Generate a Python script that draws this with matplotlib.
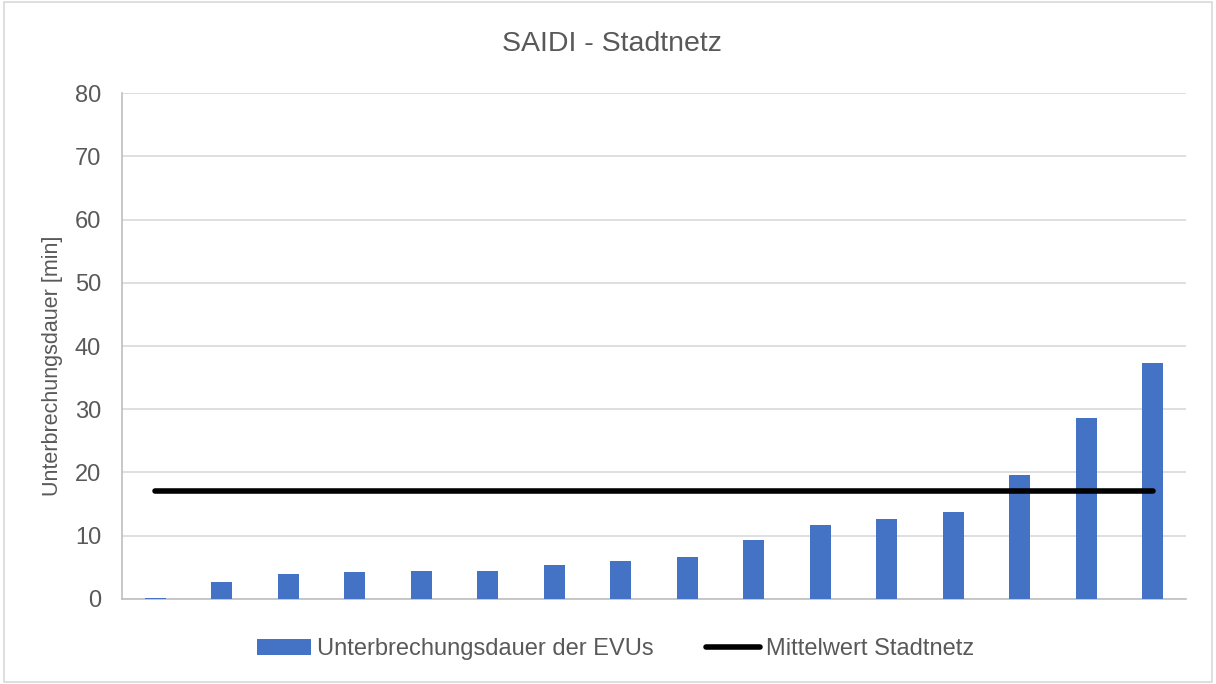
import matplotlib.pyplot as plt
from matplotlib.patches import Rectangle

# values
evu_values = [0.2, 2.7, 4.0, 4.2, 4.4, 4.5, 5.3, 6.05, 6.7, 9.4, 11.7, 12.7, 13.8, 19.6, 28.6, 37.3]
mittelwert = 17.0
y_ticks = [0, 10, 20, 30, 40, 50, 60, 70, 80]

plt.rcParams['font.family'] = ['Liberation Sans', 'DejaVu Sans']
txt_color = '#595959'

fig = plt.figure(figsize=(12.16, 6.84), dpi=100)
ax = fig.add_axes([0.1003, 0.1243, 0.875, 0.7397])

x = list(range(len(evu_values)))
bars = ax.bar(x, evu_values, width=0.32, color='#4472C4', zorder=3,
              label='Unterbrechungsdauer der EVUs')
line, = ax.plot([x[0], x[-1]], [mittelwert, mittelwert], color='black', lw=4,
                solid_capstyle='round', zorder=4, label='Mittelwert Stadtnetz')

ax.set_xlim(-0.5, len(evu_values) - 0.5)
ax.set_ylim(0, 80)
ax.set_yticks(y_ticks)
ax.set_xticks([])
ax.tick_params(axis='y', length=0, labelsize=17, labelcolor=txt_color, pad=15)
ax.yaxis.grid(True, color='#D9D9D9', lw=1.2, zorder=0)
for s in ['top', 'right']:
    ax.spines[s].set_visible(False)
ax.spines['left'].set_color('#BFBFBF')
ax.spines['left'].set_linewidth(1.2)
ax.spines['bottom'].set_color('#BFBFBF')
ax.spines['bottom'].set_linewidth(1.2)

ax.set_ylabel('Unterbrechungsdauer [min]', fontsize=15.5, color=txt_color)
ax.yaxis.set_label_coords(-0.055, 0.46)
fig.text(0.503, 0.935, 'SAIDI - Stadtnetz', ha='center', va='center',
         fontsize=20.5, color=txt_color)

leg = fig.legend(handles=[bars, line], loc='center', bbox_to_anchor=(0.506, 0.051),
                 ncol=2, frameon=False, fontsize=17, handlelength=2.3,
                 handletextpad=0.25, columnspacing=2.2)
for t in leg.get_texts():
    t.set_color(txt_color)

fig.patches.append(Rectangle((0.003, 0.003), 0.994, 0.994, transform=fig.transFigure,
                             fill=False, edgecolor='#D9D9D9', lw=1.2))

fig.savefig('out.png', dpi=100)
